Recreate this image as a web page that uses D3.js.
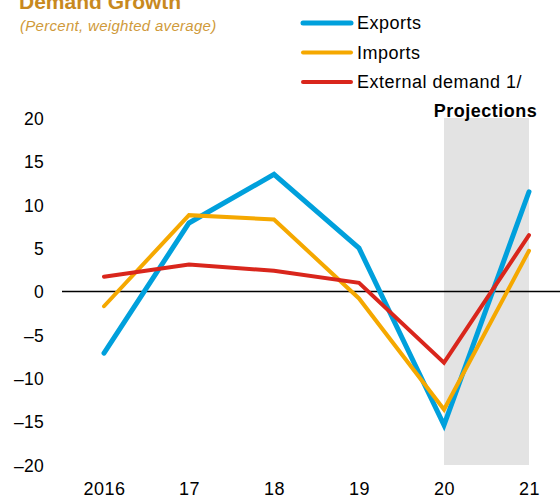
<!DOCTYPE html>
<html>
<head>
<meta charset="utf-8">
<script src="https://cdn.jsdelivr.net/npm/d3@7"></script>
<style>
  body { margin: 0; background: #fff; }
  svg { font-family: "Liberation Sans", Arial, sans-serif; }
</style>
</head>
<body>
<svg id="chart" width="560" height="498"></svg>
<script>
// Chart data
const years = [2016, 2017, 2018, 2019, 2020, 2021];
const yearLabels = ["2016", "17", "18", "19", "20", "21"];
const exportsGrowth = [-7.1, 7.9, 13.5, 5.0, -15.4, 11.5];
const importsGrowth = [-1.7, 8.8, 8.3, -0.8, -13.6, 4.7];
const externalDemand = [1.7, 3.1, 2.4, 1.0, -8.2, 6.5];
const yTicks = [20, 15, 10, 5, 0, -5, -10, -15, -20];
const projectionYears = [2020, 2021];

const series = [
    { name: "Exports", values: exportsGrowth, color: "#00a0dc", width: 5 },
    { name: "Imports", values: importsGrowth, color: "#f5a800", width: 4 },
    { name: "External demand 1/", values: externalDemand, color: "#d9261c", width: 4 }
];

const labelFont = 18;
const labelSpacing = 0.5;

const svg = d3.select("#chart");

const x = d3.scaleLinear().domain([2016, 2021]).range([104, 529]);
const y = d3.scaleLinear().domain([-20, 20]).range([465, 118]);

// Projections shading
svg.append("rect")
    .attr("x", x(projectionYears[0]))
    .attr("y", y(20))
    .attr("width", x(projectionYears[1]) - x(projectionYears[0]))
    .attr("height", y(-20) - y(20))
    .attr("fill", "#e3e3e3");

svg.append("text")
    .attr("x", (x(projectionYears[0]) + x(projectionYears[1])) / 2 - 1)
    .attr("y", 117)
    .attr("text-anchor", "middle")
    .attr("font-size", labelFont)
    .attr("letter-spacing", labelSpacing)
    .attr("font-weight", "bold")
    .attr("fill", "#000")
    .text("Projections");

// Y axis labels (no line)
const yAxis = d3.axisLeft(y)
    .tickValues(yTicks)
    .tickSize(0)
    .tickPadding(0)
    .tickFormat(d => d < 0 ? "\u2013" + Math.abs(d) : d);

const yg = svg.append("g")
    .attr("transform", "translate(44,0)")
    .call(yAxis);
yg.select(".domain").remove();
yg.selectAll("text")
    .attr("font-size", 17.5)
    .attr("letter-spacing", 0.3)
    .attr("font-family", "Liberation Sans, Arial, sans-serif")
    .attr("fill", "#000")
    .attr("dy", "0.36em");

// X axis labels
const xAxis = d3.axisBottom(x)
    .tickValues(years)
    .tickSize(0)
    .tickPadding(0)
    .tickFormat((d, i) => yearLabels[i]);

const xg = svg.append("g")
    .attr("transform", "translate(0,482)")
    .call(xAxis);
xg.select(".domain").remove();
xg.selectAll("text")
    .attr("font-size", labelFont)
    .attr("letter-spacing", labelSpacing)
    .attr("font-family", "Liberation Sans, Arial, sans-serif")
    .attr("fill", "#000")
    .attr("dy", "0.72em");

// Zero line
svg.append("line")
    .attr("x1", 62)
    .attr("x2", 560)
    .attr("y1", y(0))
    .attr("y2", y(0))
    .attr("stroke", "#000")
    .attr("stroke-width", 1.5);

// Series lines
const line = d3.line()
    .x((d, i) => x(years[i]))
    .y(d => y(d));

series.forEach(s => {
    svg.append("path")
        .datum(s.values)
        .attr("d", line)
        .attr("fill", "none")
        .attr("stroke", s.color)
        .attr("stroke-width", s.width)
        .attr("stroke-linecap", "round")
        .attr("stroke-linejoin", "miter");
});

// Title and subtitle (title is cut off at the top edge, as in the original)
svg.append("text")
    .attr("x", 19)
    .attr("y", 9)
    .attr("font-size", 21)
    .attr("font-weight", "bold")
    .attr("fill", "#c8891e")
    .text("Demand Growth");

svg.append("text")
    .attr("x", 20)
    .attr("y", 31)
    .attr("font-size", 15)
    .attr("letter-spacing", 0.3)
    .attr("font-style", "italic")
    .attr("fill", "#cf9a3a")
    .text("(Percent, weighted average)");

// Legend
const legend = svg.append("g");
series.forEach((s, i) => {
    const ly = 23 + i * 29.5;
    legend.append("line")
        .attr("x1", 303)
        .attr("x2", 351)
        .attr("y1", ly)
        .attr("y2", ly)
        .attr("stroke", s.color)
        .attr("stroke-width", s.width)
        .attr("stroke-linecap", "round");
    legend.append("text")
        .attr("x", 357)
        .attr("y", ly)
        .attr("dy", "0.35em")
        .attr("font-size", labelFont)
        .attr("letter-spacing", labelSpacing)
        .attr("fill", "#000")
        .text(s.name);
});
</script>
</body>
</html>
